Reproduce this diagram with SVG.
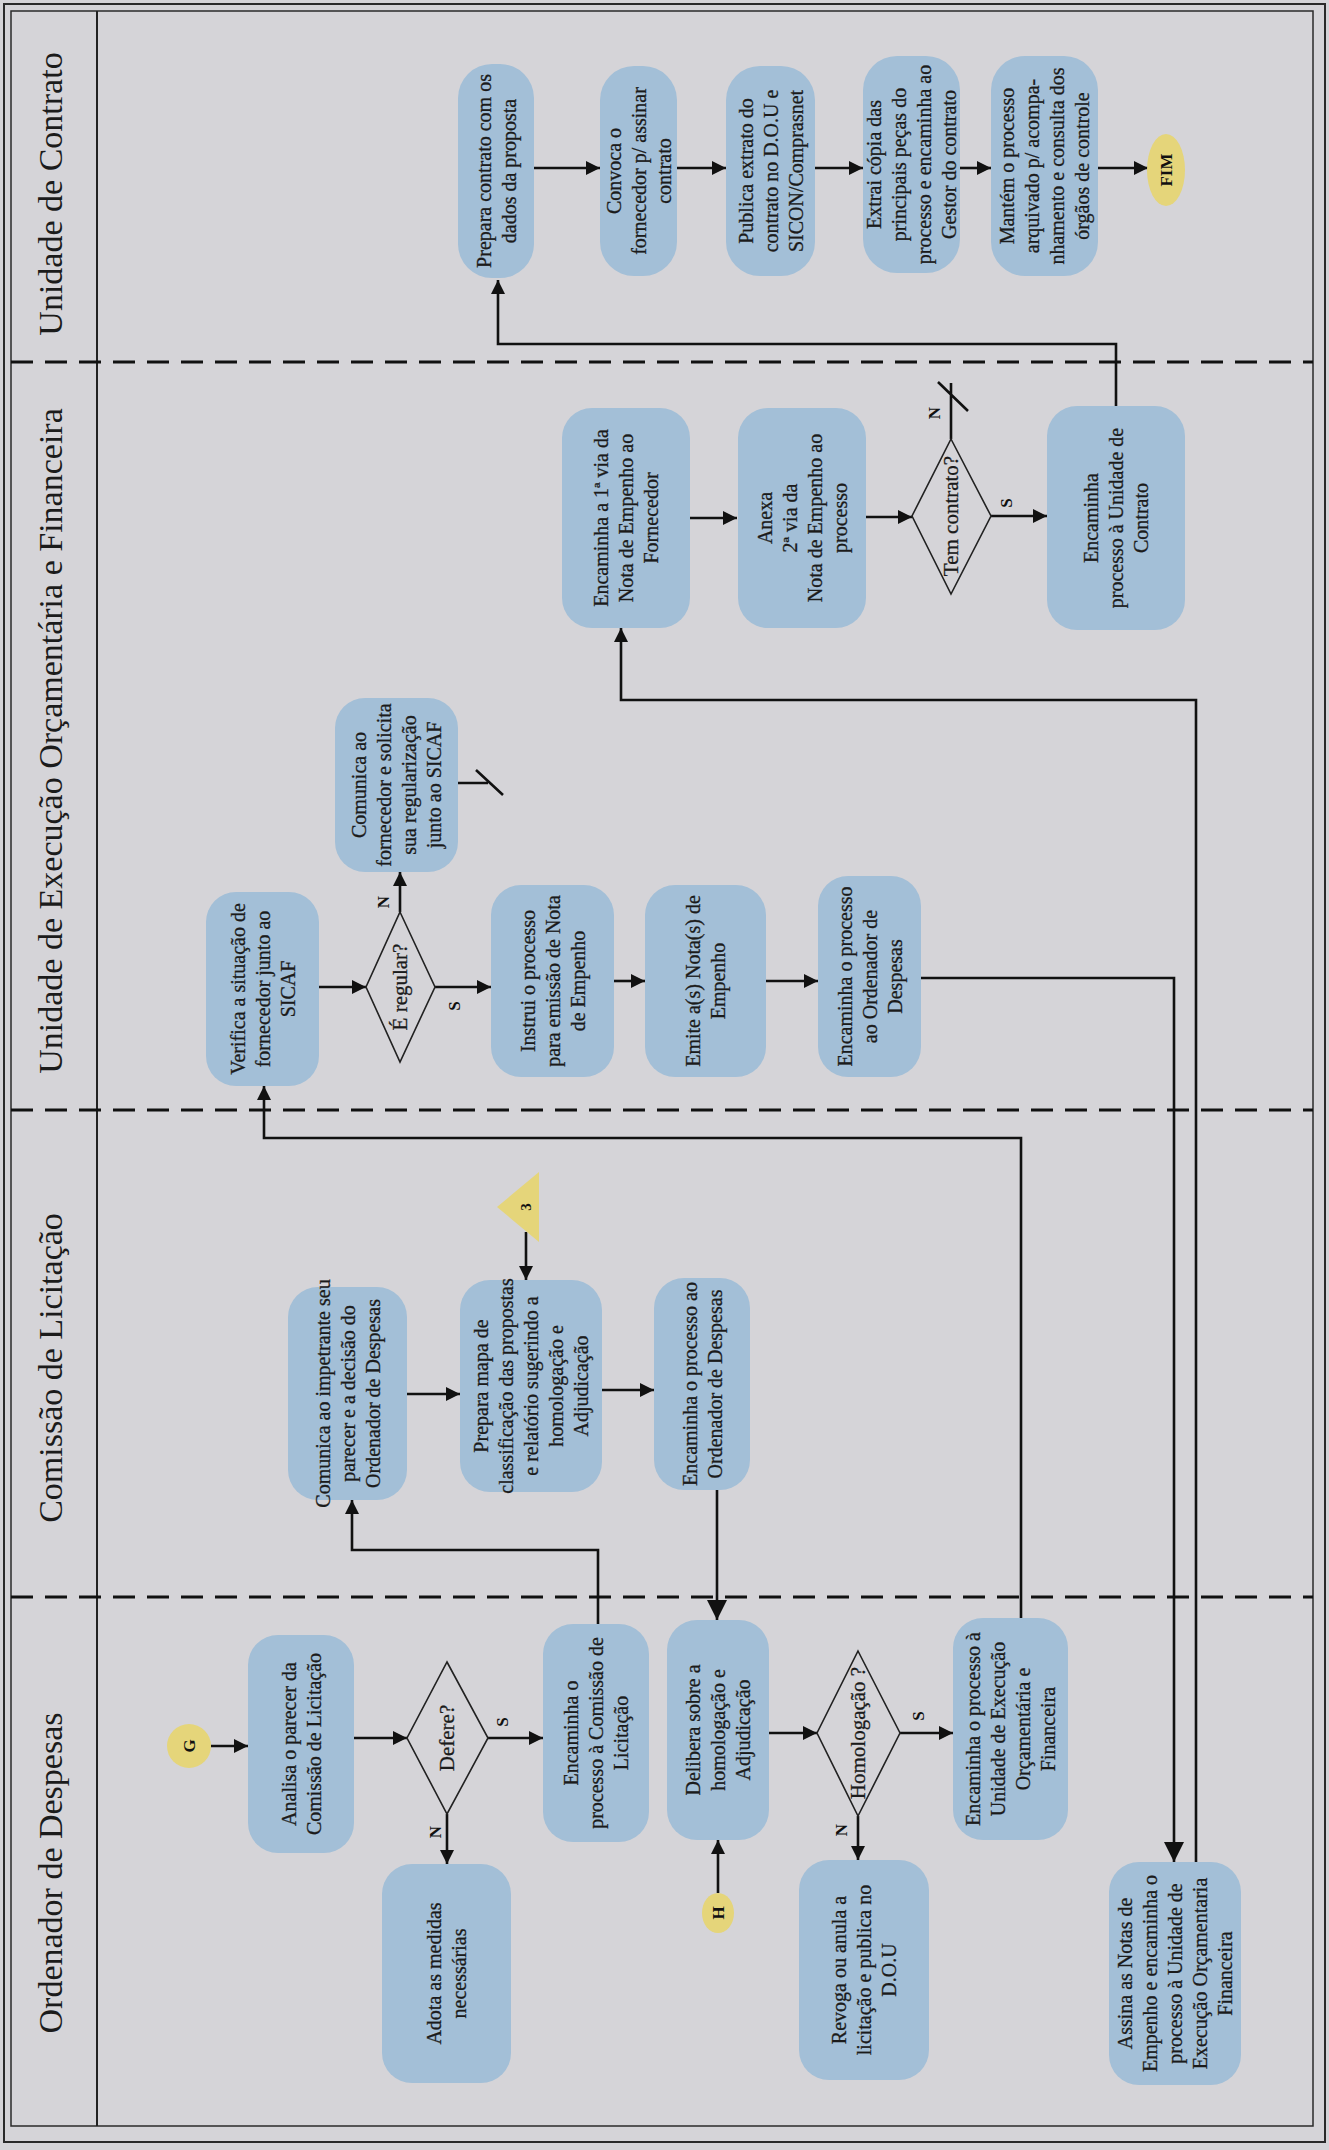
<svg xmlns="http://www.w3.org/2000/svg" width="1329" height="2150" viewBox="0 0 1329 2150">
<defs>
<marker id="arr" viewBox="0 0 10 10" refX="10" refY="5" markerWidth="15" markerHeight="14" markerUnits="userSpaceOnUse" orient="auto"><path d="M0,0 L10,5 L0,10 z" fill="#111"/></marker>
<marker id="arrL" viewBox="0 0 10 10" refX="10" refY="5" markerWidth="20" markerHeight="20" markerUnits="userSpaceOnUse" orient="auto"><path d="M0,0 L10,5 L0,10 z" fill="#111"/></marker>
<style>
.bg{fill:#d5d4d8}
.frame{fill:none;stroke:#2a2a2a;stroke-width:2}
.lane{stroke:#111;stroke-width:3;stroke-dasharray:22 12;fill:none}
.box{fill:#a3bfd7;stroke:none}
.dia{fill:none;stroke:#222;stroke-width:1.6}
.term{fill:#e5d57a;stroke:none}
.t{font-family:"Liberation Serif","Times New Roman",serif;font-size:20px;fill:#1b1b1b;stroke:#1b1b1b;stroke-width:0.3;text-anchor:middle}
.td{font-family:"Liberation Serif","Times New Roman",serif;font-size:21px;fill:#1b1b1b;stroke:#1b1b1b;stroke-width:0.3;text-anchor:middle}
.lb{font-family:"Liberation Serif","Times New Roman",serif;font-size:17px;font-weight:bold;fill:#111;text-anchor:middle}
.hd{font-family:"Liberation Serif","Times New Roman",serif;font-size:34px;fill:#1b1b1b;text-anchor:middle}
.c{fill:none;stroke:#111;stroke-width:2.6}
.ca{fill:none;stroke:#111;stroke-width:2.6;marker-end:url(#arr)}
.cl{fill:none;stroke:#111;stroke-width:2.6;marker-end:url(#arrL)}
</style>
</defs>
<rect class="bg" x="0" y="0" width="1329" height="2150"/>
<g id="frame">
<rect class="frame" x="4" y="4" width="1321" height="2138"/>
<rect class="frame" x="11" y="11" width="1302" height="2115" style="stroke-width:1.5"/>
<line x1="97" y1="11" x2="97" y2="2126" stroke="#222" stroke-width="2"/>
<line class="lane" x1="11" y1="362" x2="1313" y2="362"/>
<line class="lane" x1="11" y1="1110" x2="1313" y2="1110"/>
<line class="lane" x1="11" y1="1597" x2="1313" y2="1597"/>
</g>
<g id="headers">
<text class="hd" transform="translate(62,194) rotate(-90)">Unidade de Contrato</text>
<text class="hd" transform="translate(62,741) rotate(-90)">Unidade de Execução Orçamentária e Financeira</text>
<text class="hd" transform="translate(62,1368) rotate(-90)">Comissão  de Licitação</text>
<text class="hd" transform="translate(62,1873) rotate(-90)">Ordenador de Despesas</text>
</g>
<g id="connectors">
<line class="ca" x1="534" y1="168" x2="600" y2="168"/>
<line class="ca" x1="677" y1="168" x2="726" y2="168"/>
<line class="ca" x1="815" y1="168" x2="863" y2="168"/>
<line class="ca" x1="960" y1="168" x2="991" y2="168"/>
<line class="ca" x1="1098" y1="168" x2="1148" y2="168"/>
<path class="ca" d="M1116,406 V344 H498 V280"/>
<line class="ca" x1="690" y1="518" x2="737" y2="518"/>
<line class="ca" x1="866" y1="517" x2="912" y2="517"/>
<line class="ca" x1="991" y1="516" x2="1047" y2="516"/>
<path class="c" d="M951,439 V383 M938,382 L968,411"/>
<line class="ca" x1="319" y1="987" x2="366" y2="987"/>
<line class="ca" x1="400" y1="912" x2="400" y2="872"/>
<path class="c" d="M458,783 H488 M476,770 L503,795"/>
<line class="ca" x1="435" y1="987" x2="491" y2="987"/>
<line class="ca" x1="614" y1="981" x2="645" y2="981"/>
<line class="ca" x1="766" y1="981" x2="818" y2="981"/>
<path class="cl" d="M921,978 H1174 V1862"/>
<path class="ca" d="M1196,1862 V700 H621 V628"/>
<line class="ca" x1="407" y1="1394" x2="460" y2="1394"/>
<line class="ca" x1="526" y1="1232" x2="526" y2="1280"/>
<line class="ca" x1="602" y1="1390" x2="654" y2="1390"/>
<path class="ca" d="M598,1624 V1550 H352 V1500"/>
<path class="ca" d="M1021,1618 V1138 H264 V1086"/>
<line class="cl" x1="717" y1="1490" x2="717" y2="1620"/>
<line class="ca" x1="211" y1="1746" x2="248" y2="1746"/>
<line class="ca" x1="354" y1="1738" x2="407" y2="1738"/>
<line class="ca" x1="488" y1="1738" x2="543" y2="1738"/>
<line class="ca" x1="447" y1="1814" x2="447" y2="1864"/>
<line class="ca" x1="718" y1="1893" x2="718" y2="1840"/>
<line class="ca" x1="769" y1="1733" x2="817" y2="1733"/>
<line class="ca" x1="900" y1="1733" x2="953" y2="1733"/>
<line class="ca" x1="858" y1="1816" x2="858" y2="1860"/>
</g>
<g id="labels">
<text class="lb" transform="translate(1012,503) rotate(-90)">S</text>
<text class="lb" transform="translate(940,413) rotate(-90)">N</text>
<text class="lb" transform="translate(389,902) rotate(-90)">N</text>
<text class="lb" transform="translate(460,1006) rotate(-90)">S</text>
<text class="lb" transform="translate(508,1722) rotate(-90)">S</text>
<text class="lb" transform="translate(441,1832) rotate(-90)">N</text>
<text class="lb" transform="translate(924,1716) rotate(-90)">S</text>
<text class="lb" transform="translate(847,1830) rotate(-90)">N</text>
</g>
<g id="n_prepara_contrato"><rect class="box" x="458" y="64" width="76" height="214" rx="34"/>
<text class="t" transform="translate(496,171) rotate(-90)"><tspan x="0" y="-5.5">Prepara contrato com os</tspan><tspan x="0" y="19.5">dados da proposta</tspan></text></g>
<g id="n_convoca"><rect class="box" x="600" y="66" width="77" height="210" rx="34"/>
<text class="t" transform="translate(638.5,171) rotate(-90)"><tspan x="0" y="-18">Convoca o</tspan><tspan x="0" y="7">fornecedor p/ assinar</tspan><tspan x="0" y="32">contrato</tspan></text></g>
<g id="n_publica"><rect class="box" x="726" y="66" width="89" height="210" rx="34"/>
<text class="t" transform="translate(770.5,171) rotate(-90)"><tspan x="0" y="-18">Publica extrato do</tspan><tspan x="0" y="7">contrato no D.O.U e</tspan><tspan x="0" y="32">SICON/Comprasnet</tspan></text></g>
<g id="n_extrai"><rect class="box" x="863" y="56" width="97" height="217" rx="34"/>
<text class="t" transform="translate(911.5,164.5) rotate(-90)"><tspan x="0" y="-30.5">Extrai cópia das</tspan><tspan x="0" y="-5.5">principais peças do</tspan><tspan x="0" y="19.5">processo e encaminha ao</tspan><tspan x="0" y="44.5">Gestor do contrato</tspan></text></g>
<g id="n_mantem"><rect class="box" x="991" y="56" width="107" height="220" rx="34"/>
<text class="t" transform="translate(1044.5,166) rotate(-90)"><tspan x="0" y="-30.5">Mantém o processo</tspan><tspan x="0" y="-5.5">arquivado p/ acompa-</tspan><tspan x="0" y="19.5">nhamento e consulta dos</tspan><tspan x="0" y="44.5">órgãos de controle</tspan></text></g>
<g id="n_fim"><ellipse class="term" cx="1166" cy="170" rx="19" ry="36"/>
<text class="lb" transform="translate(1172,170) rotate(-90)">FIM</text></g>
<g id="n_via1"><rect class="box" x="562" y="408" width="128" height="220" rx="30"/>
<text class="t" transform="translate(626,518) rotate(-90)"><tspan x="0" y="-18">Encaminha a 1ª via da</tspan><tspan x="0" y="7">Nota de Empenho ao</tspan><tspan x="0" y="32">Fornecedor</tspan></text></g>
<g id="n_anexa"><rect class="box" x="738" y="408" width="128" height="220" rx="30"/>
<text class="t" transform="translate(802,518) rotate(-90)"><tspan x="0" y="-30.5">Anexa</tspan><tspan x="0" y="-5.5">2ª via da</tspan><tspan x="0" y="19.5">Nota de Empenho ao</tspan><tspan x="0" y="44.5">processo</tspan></text></g>
<g id="n_tem_contrato"><polygon class="dia" points="951,439 991,516 951,594 912,516"/>
<text class="td" transform="translate(958,516) rotate(-90)">Tem contrato?</text></g>
<g id="n_enc_contrato"><rect class="box" x="1047" y="406" width="138" height="224" rx="30"/>
<text class="t" transform="translate(1116,518) rotate(-90)"><tspan x="0" y="-18">Encaminha</tspan><tspan x="0" y="7">processo à Unidade de</tspan><tspan x="0" y="32">Contrato</tspan></text></g>
<g id="n_verifica"><rect class="box" x="206" y="892" width="113" height="194" rx="30"/>
<text class="t" transform="translate(262.5,989) rotate(-90)"><tspan x="0" y="-18">Verifica a situação de</tspan><tspan x="0" y="7">fornecedor junto ao</tspan><tspan x="0" y="32">SICAF</tspan></text></g>
<g id="n_regular"><polygon class="dia" points="400,912 435,987 400,1062 366,987"/>
<text class="td" transform="translate(407,987) rotate(-90)">É regular?</text></g>
<g id="n_comunica_forn"><rect class="box" x="335" y="698" width="123" height="174" rx="30"/>
<text class="t" transform="translate(396.5,785) rotate(-90)"><tspan x="0" y="-30.5">Comunica ao</tspan><tspan x="0" y="-5.5">fornecedor e solicita</tspan><tspan x="0" y="19.5">sua regularização</tspan><tspan x="0" y="44.5">junto ao SICAF</tspan></text></g>
<g id="n_instrui"><rect class="box" x="491" y="885" width="123" height="192" rx="30"/>
<text class="t" transform="translate(552.5,981) rotate(-90)"><tspan x="0" y="-18">Instrui o processo</tspan><tspan x="0" y="7">para emissão de Nota</tspan><tspan x="0" y="32">de Empenho</tspan></text></g>
<g id="n_emite"><rect class="box" x="645" y="885" width="121" height="192" rx="30"/>
<text class="t" transform="translate(705.5,981) rotate(-90)"><tspan x="0" y="-5.5">Emite a(s) Nota(s) de</tspan><tspan x="0" y="19.5">Empenho</tspan></text></g>
<g id="n_enc_ord_ueof"><rect class="box" x="818" y="876" width="103" height="201" rx="30"/>
<text class="t" transform="translate(869.5,976.5) rotate(-90)"><tspan x="0" y="-18">Encaminha o processo</tspan><tspan x="0" y="7">ao Ordenador de</tspan><tspan x="0" y="32">Despesas</tspan></text></g>
<g id="n_tri3"><polygon class="term" points="539,1172 539,1242 497,1207"/>
<text class="lb" transform="translate(531,1207) rotate(-90)" style="font-size:15px">3</text></g>
<g id="n_comunica_imp"><rect class="box" x="288" y="1287" width="119" height="213" rx="30"/>
<text class="t" transform="translate(347.5,1393.5) rotate(-90)"><tspan x="0" y="-18">Comunica ao impetrante seu</tspan><tspan x="0" y="7">parecer e a decisão do</tspan><tspan x="0" y="32">Ordenador de Despesas</tspan></text></g>
<g id="n_prepara_mapa"><rect class="box" x="460" y="1280" width="142" height="212" rx="30"/>
<text class="t" transform="translate(531,1386) rotate(-90)"><tspan x="0" y="-43">Prepara mapa de</tspan><tspan x="0" y="-18">classificação das propostas</tspan><tspan x="0" y="7">e relatório sugerindo a</tspan><tspan x="0" y="32">homologação e</tspan><tspan x="0" y="57">Adjudicação</tspan></text></g>
<g id="n_enc_ord_com"><rect class="box" x="654" y="1278" width="96" height="212" rx="30"/>
<text class="t" transform="translate(702,1384) rotate(-90)"><tspan x="0" y="-5.5">Encaminha o processo ao</tspan><tspan x="0" y="19.5">Ordenador de Despesas</tspan></text></g>
<g id="n_g"><circle class="term" cx="189" cy="1746" r="22"/>
<text class="lb" transform="translate(195,1746) rotate(-90)">G</text></g>
<g id="n_analisa"><rect class="box" x="248" y="1635" width="106" height="218" rx="30"/>
<text class="t" transform="translate(301,1744) rotate(-90)"><tspan x="0" y="-5.5">Analisa o parecer da</tspan><tspan x="0" y="19.5">Comissão de Licitação</tspan></text></g>
<g id="n_defere"><polygon class="dia" points="447,1662 488,1738 447,1814 407,1738"/>
<text class="td" transform="translate(454,1738) rotate(-90)">Defere?</text></g>
<g id="n_adota"><rect class="box" x="382" y="1864" width="129" height="219" rx="30"/>
<text class="t" transform="translate(446.5,1973.5) rotate(-90)"><tspan x="0" y="-5.5">Adota as medidas</tspan><tspan x="0" y="19.5">necessárias</tspan></text></g>
<g id="n_enc_comissao"><rect class="box" x="543" y="1624" width="106" height="218" rx="30"/>
<text class="t" transform="translate(596,1733) rotate(-90)"><tspan x="0" y="-18">Encaminha o</tspan><tspan x="0" y="7">processo à Comissão de</tspan><tspan x="0" y="32">Licitação</tspan></text></g>
<g id="n_delibera"><rect class="box" x="667" y="1620" width="102" height="220" rx="30"/>
<text class="t" transform="translate(718,1730) rotate(-90)"><tspan x="0" y="-18">Delibera sobre a</tspan><tspan x="0" y="7">homologação e</tspan><tspan x="0" y="32">Adjudicação</tspan></text></g>
<g id="n_h"><ellipse class="term" cx="718" cy="1913" rx="16" ry="20"/>
<text class="lb" transform="translate(724,1913) rotate(-90)">H</text></g>
<g id="n_homologacao"><polygon class="dia" points="858,1651 900,1733 858,1816 817,1733"/>
<text class="td" transform="translate(865,1733) rotate(-90)">Homologação ?</text></g>
<g id="n_revoga"><rect class="box" x="799" y="1860" width="130" height="220" rx="30"/>
<text class="t" transform="translate(864,1970) rotate(-90)"><tspan x="0" y="-18">Revoga ou anula a</tspan><tspan x="0" y="7">licitação e publica no</tspan><tspan x="0" y="32">D.O.U</tspan></text></g>
<g id="n_enc_ueof"><rect class="box" x="953" y="1618" width="115" height="222" rx="30"/>
<text class="t" transform="translate(1010.5,1729) rotate(-90)"><tspan x="0" y="-30.5">Encaminha o processo à</tspan><tspan x="0" y="-5.5">Unidade de Execução</tspan><tspan x="0" y="19.5">Orçamentária e</tspan><tspan x="0" y="44.5">Financeira</tspan></text></g>
<g id="n_assina"><rect class="box" x="1109" y="1862" width="132" height="223" rx="30"/>
<text class="t" transform="translate(1175,1973.5) rotate(-90)"><tspan x="0" y="-43">Assina as Notas de</tspan><tspan x="0" y="-18">Empenho e encaminha o</tspan><tspan x="0" y="7">processo à Unidade de</tspan><tspan x="0" y="32">Execução Orçamentaria</tspan><tspan x="0" y="57">Financeira</tspan></text></g>
</svg>
